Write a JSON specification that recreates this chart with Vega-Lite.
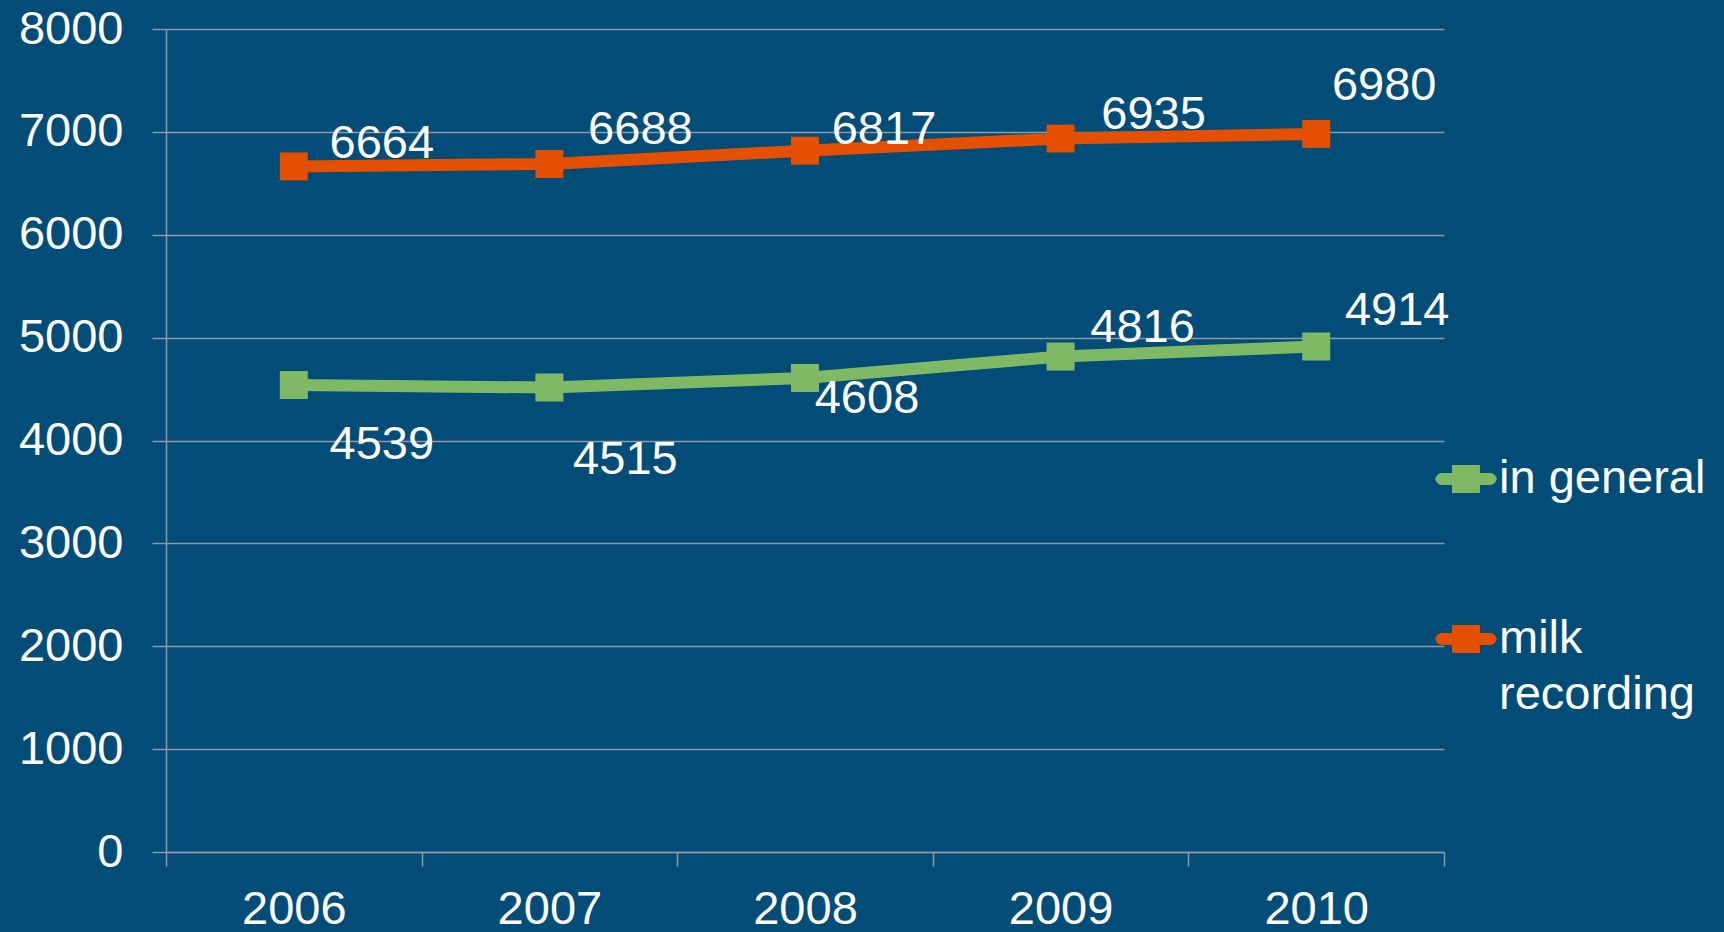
{
  "$schema": "https://vega.github.io/schema/vega-lite/v6.json",
  "width": 1278,
  "height": 823,
  "autosize": "none",
  "padding": {"left": 166, "top": 29, "right": 280, "bottom": 80},
  "background": "#024c78",
  "config": {"view": {"stroke": null}, "font": "Liberation Sans"},
  "data": {
    "values": [
      {"year": "2006", "series": "in general", "value": 4539},
      {"year": "2007", "series": "in general", "value": 4515},
      {"year": "2008", "series": "in general", "value": 4608},
      {"year": "2009", "series": "in general", "value": 4816},
      {"year": "2010", "series": "in general", "value": 4914},
      {"year": "2006", "series": "milk recording", "value": 6664},
      {"year": "2007", "series": "milk recording", "value": 6688},
      {"year": "2008", "series": "milk recording", "value": 6817},
      {"year": "2009", "series": "milk recording", "value": 6935},
      {"year": "2010", "series": "milk recording", "value": 6980}
    ]
  },
  "encoding": {
    "x": {
      "field": "year", "type": "ordinal",
      "scale": {"type": "band", "paddingInner": 0, "paddingOuter": 0},
      "axis": {
        "title": null, "labelAngle": 0, "tickBand": "extent", "tickSize": 14,
        "labelFontSize": 47, "labelColor": "white", "labelPadding": 20,
        "labelBaseline": "top",
        "domainColor": "#8d99a6", "tickColor": "#8d99a6", "domainWidth": 1.5, "tickWidth": 1.5,
        "grid": false
      }
    },
    "y": {
      "field": "value", "type": "quantitative",
      "scale": {"domain": [0, 8000]},
      "axis": {
        "title": null, "values": [0, 1000, 2000, 3000, 4000, 5000, 6000, 7000, 8000], "format": "d",
        "grid": true, "gridColor": "#8d99a6", "gridWidth": 1.5,
        "domainColor": "#8d99a6", "tickColor": "#8d99a6", "domainWidth": 1.5, "tickWidth": 1.5,
        "tickSize": 14, "labelPadding": 29, "labelFontSize": 47, "labelColor": "white"
      }
    },
    "color": {
      "field": "series", "type": "nominal",
      "scale": {"domain": ["in general", "milk recording"], "range": ["#80b964", "#e44f00"]},
      "legend": {
        "orient": "none", "legendX": 1269, "legendY": 419, "title": null,
        "symbolType": "M -0.81 -0.19 L 0.81 -0.19 L 0.9 -0.15 L 0.95 -0.1 L 1 0 L 0.95 0.1 L 0.9 0.15 L 0.81 0.19 L -0.81 0.19 L -0.9 0.15 L -0.95 0.1 L -1 0 L -0.95 -0.1 L -0.9 -0.15 Z M -0.45 -0.45 L 0.45 -0.45 L 0.45 0.45 L -0.45 0.45 Z",
        "symbolSize": 3844, "symbolStrokeWidth": 0, "symbolOpacity": 1,
        "labelFontSize": 47, "labelColor": "white", "labelOffset": 2,
        "rowPadding": 106, "padding": 0, "labelLimit": 400,
        "labelExpr": "datum.label == 'milk recording' ? ['milk', 'recording'] : datum.label",
        "encode": {"labels": {"update": {"lineHeight": {"value": 56}}}}
      }
    }
  },
  "layer": [
    {
      "mark": {"type": "line", "strokeWidth": 12}
    },
    {
      "mark": {"type": "point", "shape": "square", "filled": true, "size": 784, "opacity": 1}
    },
    {
      "mark": {
        "type": "text", "fontSize": 47, "color": "white", "align": "center", "baseline": "middle",
        "dx": {"expr": "datum.series == 'milk recording' ? [88, 91, 79, 93, 68][toNumber(datum.year) - 2006] : [88, 76, 62, 82, 81][toNumber(datum.year) - 2006]"},
        "dy": {"expr": "datum.series == 'milk recording' ? [-22, -34, -21, -24, -48][toNumber(datum.year) - 2006] : [60, 72, 21, -29, -35][toNumber(datum.year) - 2006]"}
      },
      "encoding": {"text": {"field": "value", "type": "quantitative", "format": "d"}, "color": {"value": "white"}}
    }
  ]
}
